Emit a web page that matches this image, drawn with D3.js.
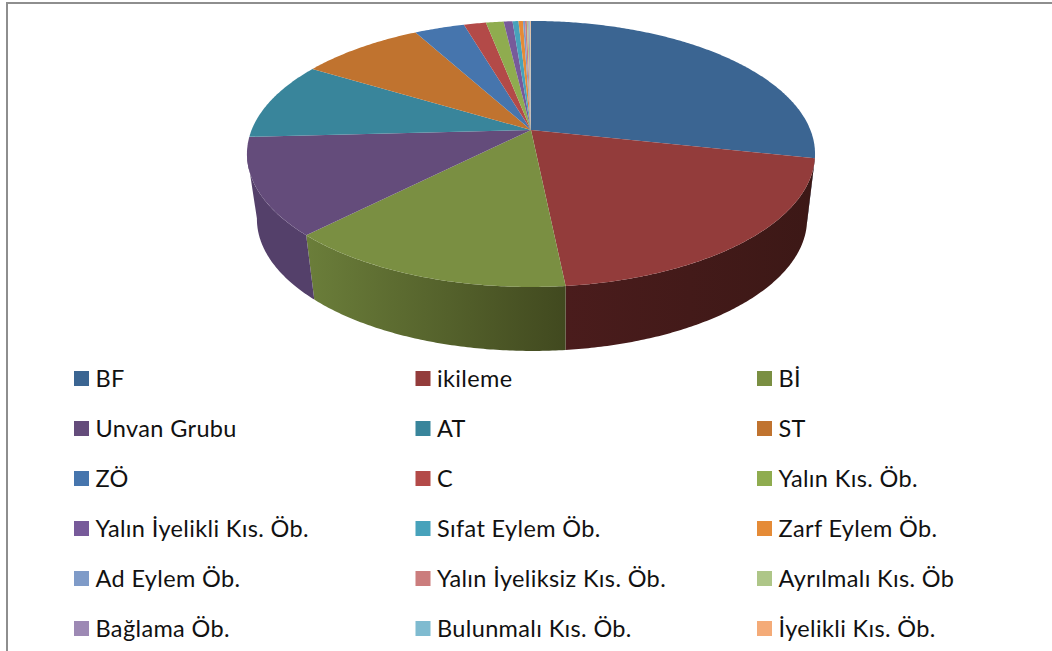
<!DOCTYPE html>
<html><head><meta charset="utf-8">
<script src="https://cdn.jsdelivr.net/npm/d3@7"></script>
<style>html,body{margin:0;padding:0;background:#fff}svg{display:block}</style>
</head><body><div id="c"></div>
<script>
const categories=["BF","ikileme","Bİ","Unvan Grubu","AT","ST","ZÖ","C","Yalın Kıs. Öb.","Yalın İyelikli Kıs. Öb.","Sıfat Eylem Öb.","Zarf Eylem Öb.","Ad Eylem Öb.","Yalın İyeliksiz Kıs. Öb.","Ayrılmalı Kıs. Öb","Bağlama Öb.","Bulunmalı Kıs. Öb.","İyelikli Kıs. Öb."];
const values=[28.4,20,14,11.8,9.5,8.4,3.4,1.5,1.2,0.6,0.4,0.3,0.14,0.125,0.1,0.08,0.06,0.04];
const colors=["#3b6592","#933c3b","#7a8f42","#644c7b","#39859b","#c0732f","#4675ad","#b34a48","#8fac4f","#775a9a","#47a2bb","#e58b37","#7f9bc8","#cb7d7d","#aec688","#9d89b4","#7fbbd0","#f4ab78"];
const sideLeft=["#2c4c6e","#4a1c1c","#6b7e3a","#54406a","#2b6474","#905624","#345882","#863836","#6b813b","#594374","#35798c","#ac6829","#5f7496","#985e5e","#829566","#766787","#5f8c9c","#b7805a"];
const sideRight=["#2c4c6e","#3c1816","#41491f","#54406a","#2b6474","#905624","#345882","#863836","#6b813b","#594374","#35798c","#ac6829","#5f7496","#985e5e","#829566","#766787","#5f8c9c","#b7805a"];

const W=1052,H=651;
const svg=d3.select("#c").append("svg").attr("width",W).attr("height",H);
svg.append("path").attr("d",`M7,${H} V3 H${W}`).attr("fill","none").attr("stroke","#8e8e8e").attr("stroke-width",2);

const k=0.18;
const topDisk={cx:531,cy:130,R:279.4,S:128.7};
const botDisk={cx:532,cy:195.2,R:270.6,S:127.7};
const project=(d,a)=>{const u=Math.sin(a),v=-Math.cos(a),w=1-k*v;return [d.cx+d.R*u/w,d.cy+d.S*v/w];};
const arcPts=(d,a0,a1)=>{const n=Math.max(2,Math.ceil((a1-a0)/0.01));return d3.range(n+1).map(i=>project(d,a0+(a1-a0)*i/n));};
const line=d3.line();
const arcs=d3.pie().sort(null).value(d=>d)(values);

// The wall only shows on the front half, between the two silhouette points of the projected disk.
const frontStart=Math.PI/2+Math.atan(k), frontEnd=3*Math.PI/2-Math.atan(k);
const front=arcs.filter(s=>s.endAngle>frontStart&&s.startAngle<frontEnd)
  .map(s=>({i:s.index,a0:Math.max(s.startAngle,frontStart),a1:Math.min(s.endAngle,frontEnd)}));

const defs=svg.append("defs");
front.forEach(s=>{const g=defs.append("linearGradient").attr("id","g"+s.i);
  g.append("stop").attr("offset",0).attr("stop-color",sideLeft[s.i]);
  g.append("stop").attr("offset",1).attr("stop-color",sideRight[s.i]);});

svg.append("g").selectAll("path").data(front).join("path")
  .attr("d",s=>line([...arcPts(topDisk,s.a0,s.a1),...arcPts(botDisk,s.a0,s.a1).reverse()])+"Z")
  .attr("fill",s=>`url(#g${s.i})`);
svg.append("g").selectAll("path").data(arcs).join("path")
  .attr("d",s=>line([[topDisk.cx,topDisk.cy],...arcPts(topDisk,s.startAngle,s.endAngle)])+"Z")
  .attr("fill",(s,i)=>colors[i]);

const colX=d3.scalePoint().domain([0,1,2]).range([74,757]);
const rowY=d3.scalePoint().domain(d3.range(6)).range([378.5,628.5]);
const lg=svg.append("g").selectAll("g").data(categories).join("g")
  .attr("transform",(c,i)=>`translate(${colX(i%3)},${rowY(Math.floor(i/3))})`);
lg.append("rect").attr("x",0).attr("y",-7.5).attr("width",15).attr("height",15).attr("fill",(c,i)=>colors[i]);
lg.append("text").attr("x",21.5).attr("y",8).text(c=>c)
  .attr("font-family","Lato, sans-serif").attr("font-size",23.5).attr("letter-spacing",0.36).attr("fill","#111");
</script></body></html>
